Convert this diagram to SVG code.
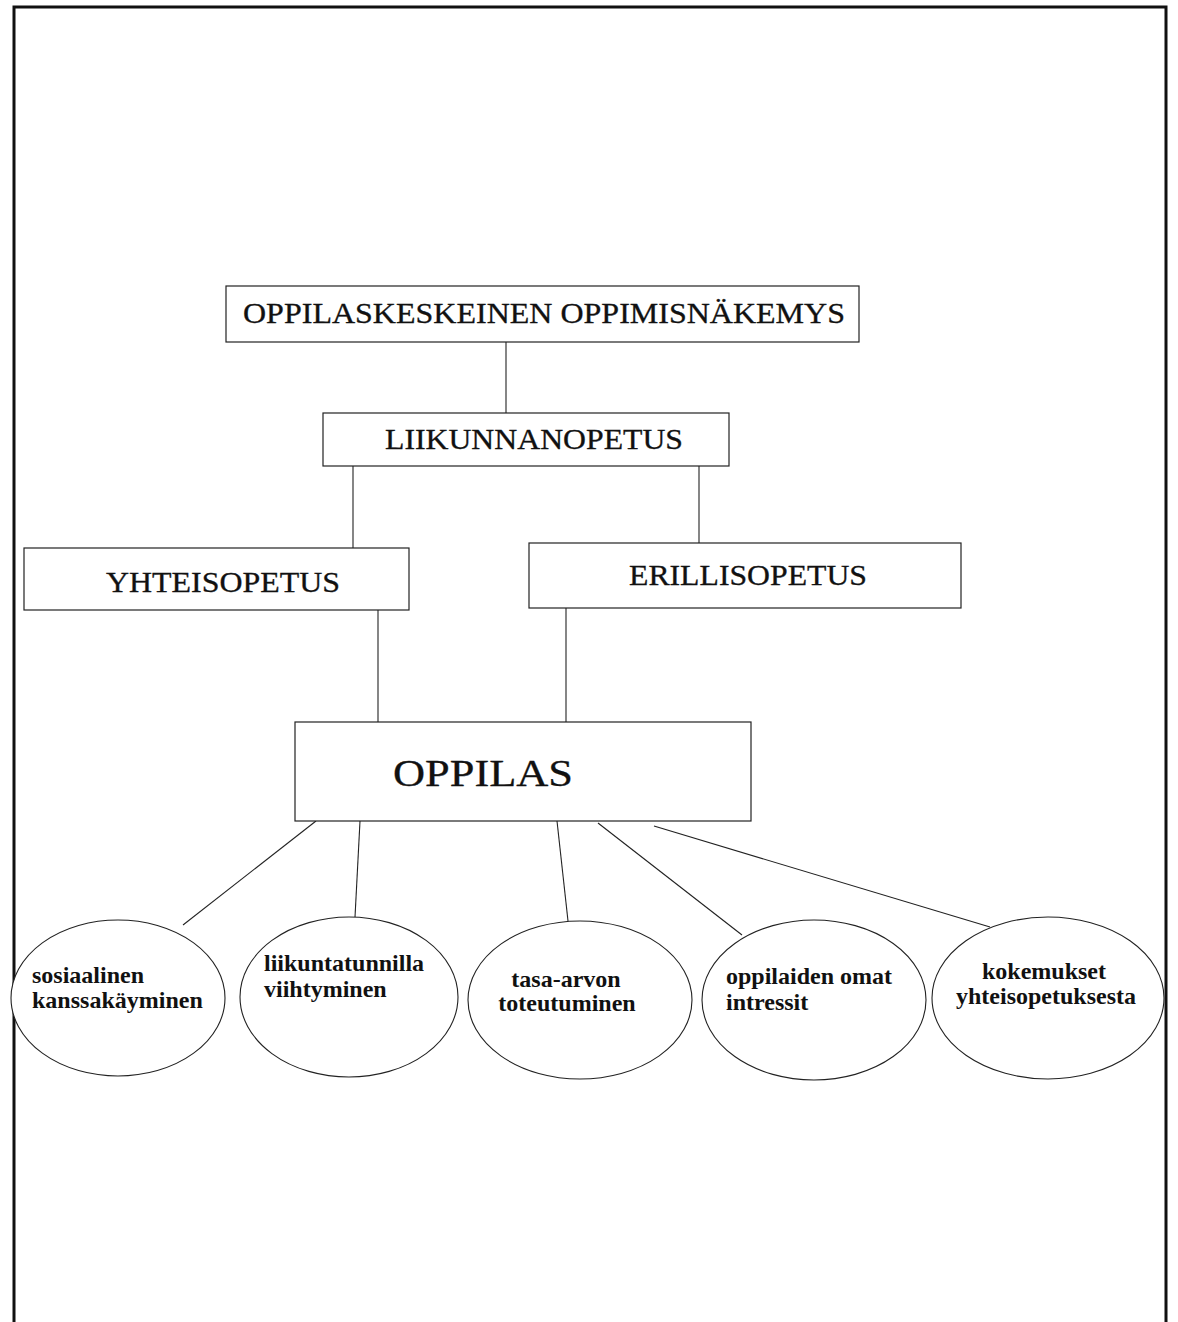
<svg xmlns="http://www.w3.org/2000/svg" width="1178" height="1322" viewBox="0 0 1178 1322">
<style>
.box{fill:#fff;stroke:#222;stroke-width:1.2}
.ell{fill:#fff;stroke:#222;stroke-width:1.1}
.con{stroke:#222;stroke-width:1.1;fill:none}
.t{font-family:"Liberation Serif","Times New Roman",serif;fill:#111;stroke:#111;stroke-width:0.3}
.e{font-family:"Liberation Serif","Times New Roman",serif;font-weight:bold;font-size:24px;fill:#111}
</style>
<rect width="1178" height="1322" fill="#fff"/>
<path d="M14,1322 V7 H1166 V1322" fill="none" stroke="#111" stroke-width="3"/>
<g id="connectors">
<line class="con" x1="506" y1="342" x2="506" y2="413"/>
<line class="con" x1="353" y1="466" x2="353" y2="548"/>
<line class="con" x1="699" y1="466" x2="699" y2="543"/>
<line class="con" x1="378" y1="610" x2="378" y2="722"/>
<line class="con" x1="566" y1="608" x2="566" y2="722"/>
<line class="con" x1="316" y1="821" x2="183" y2="925"/>
<line class="con" x1="360" y1="821" x2="355" y2="917"/>
<line class="con" x1="557" y1="821" x2="568" y2="921"/>
<line class="con" x1="598" y1="823" x2="742" y2="935"/>
<line class="con" x1="654" y1="826" x2="990" y2="927"/>
</g>
<g id="n-oppimisnakemys">
<rect class="box" x="226" y="286" width="633" height="56"/>
<text class="t" x="544" y="323" font-size="29" text-anchor="middle" textLength="602" lengthAdjust="spacingAndGlyphs">OPPILASKESKEINEN OPPIMISNÄKEMYS</text>
</g>
<g id="n-liikunnanopetus">
<rect class="box" x="323" y="413" width="406" height="53"/>
<text class="t" x="534" y="449" font-size="29" text-anchor="middle" textLength="298" lengthAdjust="spacingAndGlyphs">LIIKUNNANOPETUS</text>
</g>
<g id="n-yhteisopetus">
<rect class="box" x="24" y="548" width="385" height="62"/>
<text class="t" x="223" y="592" font-size="29" text-anchor="middle" textLength="234" lengthAdjust="spacingAndGlyphs">YHTEISOPETUS</text>
</g>
<g id="n-erillisopetus">
<rect class="box" x="529" y="543" width="432" height="65"/>
<text class="t" x="748" y="585" font-size="29" text-anchor="middle" textLength="238" lengthAdjust="spacingAndGlyphs">ERILLISOPETUS</text>
</g>
<g id="n-oppilas">
<rect class="box" x="295" y="722" width="456" height="99"/>
<text class="t" x="483" y="786" font-size="38" text-anchor="middle" textLength="180" lengthAdjust="spacingAndGlyphs">OPPILAS</text>
</g>
<g id="n-sosiaalinen">
<ellipse class="ell" cx="118" cy="998" rx="107" ry="78"/>
<text class="e" x="32" y="983">sosiaalinen</text>
<text class="e" x="32" y="1008">kanssakäyminen</text>
</g>
<g id="n-viihtyminen">
<ellipse class="ell" cx="349" cy="997" rx="109" ry="80"/>
<text class="e" x="264" y="971">liikuntatunnilla</text>
<text class="e" x="264" y="997">viihtyminen</text>
</g>
<g id="n-tasa-arvo">
<ellipse class="ell" cx="580" cy="1000" rx="112" ry="79"/>
<text class="e" x="566" y="987" text-anchor="middle">tasa-arvon</text>
<text class="e" x="567" y="1011" text-anchor="middle">toteutuminen</text>
</g>
<g id="n-intressit">
<ellipse class="ell" cx="814" cy="1000" rx="112" ry="80"/>
<text class="e" x="726" y="984">oppilaiden omat</text>
<text class="e" x="726" y="1010">intressit</text>
</g>
<g id="n-kokemukset">
<ellipse class="ell" cx="1048" cy="998" rx="116" ry="81"/>
<text class="e" x="1044" y="979" text-anchor="middle">kokemukset</text>
<text class="e" x="1046" y="1004" text-anchor="middle">yhteisopetuksesta</text>
</g>
</svg>
